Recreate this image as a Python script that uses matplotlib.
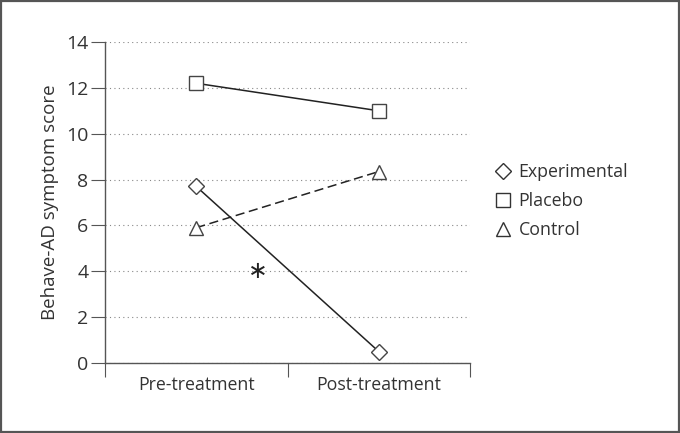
import matplotlib
matplotlib.use("Agg")
import matplotlib.pyplot as plt
from matplotlib.patches import Rectangle
from matplotlib.lines import Line2D

plt.rcParams['font.family'] = ['Open Sans', 'DejaVu Sans']

categories = ['Pre-treatment', 'Post-treatment']
experimental = [7.7, 0.5]
placebo = [12.2, 11.0]
control = [5.9, 8.35]
yticks = [0, 2, 4, 6, 8, 10, 12, 14]
star_pos = (0.84, 4.0)

fig = plt.figure(figsize=(6.8, 4.33), dpi=100)
ax = fig.add_axes([105/680, 70/433, 365/680, 321/433])

# frame round the whole picture
fig.patches.append(Rectangle((0.002, 0.003), 0.996, 0.994, transform=fig.transFigure,
                             fill=False, edgecolor='#555555', linewidth=1.6))

xs = [0.5, 1.5]
col = '#222222'
ax.plot(xs, experimental, color=col, lw=1.1, marker='D', ms=8, mfc='white', mec='#444444', mew=1.0,
        zorder=3)
ax.plot(xs, placebo, color=col, lw=1.1, marker='s', ms=10.5, mfc='white', mec='#444444', mew=1.0,
        zorder=3)
ax.plot(xs, control, color=col, lw=1.1, ls=(0, (6, 3)), marker='^', ms=10, mfc='white',
        mec='#444444', mew=1.0, zorder=3)

ax.text(star_pos[0], star_pos[1], '\u2217', fontsize=17, ha='center', va='center', color=col,
        family='DejaVu Sans')

ax.set_xlim(0, 2)
ax.set_ylim(0, 14)
ax.set_yticks(yticks)
ax.set_xticks([0, 1, 2])
ax.set_xticklabels([])
ax.set_xticks(xs, minor=True)
ax.set_xticklabels(categories, minor=True)
ax.tick_params(axis='x', which='minor', length=0, pad=9, labelsize=12.8, colors='#333333')
ax.tick_params(axis='x', which='major', length=10, color='#555555')
ax.tick_params(axis='y', length=10, direction='out', color='#555555', labelsize=14,
               labelcolor='#333333', pad=2)

ax.yaxis.grid(True, ls=(0, (1, 3)), color='#888888', lw=0.8)
for s in ['top', 'right']:
    ax.spines[s].set_visible(False)
for s in ['left', 'bottom']:
    ax.spines[s].set_color('#555555')
    ax.spines[s].set_linewidth(1.0)
ax.set_ylabel('Behave-AD symptom score', fontsize=13.5, color='#333333', labelpad=5)

handles = [
    Line2D([], [], ls='none', marker='D', ms=8, mfc='white', mec='#333333', mew=1.0),
    Line2D([], [], ls='none', marker='s', ms=9.5, mfc='white', mec='#333333', mew=1.0),
    Line2D([], [], ls='none', marker='^', ms=9.5, mfc='white', mec='#333333', mew=1.0),
]
fig.legend(handles, ['Experimental', 'Placebo', 'Control'], loc='center left',
           bbox_to_anchor=(0.705, 0.535), frameon=False, fontsize=12.8, handlelength=0.8,
           handletextpad=0.5, labelspacing=0.62, labelcolor='#333333')

fig.savefig('out.png', dpi=100)
